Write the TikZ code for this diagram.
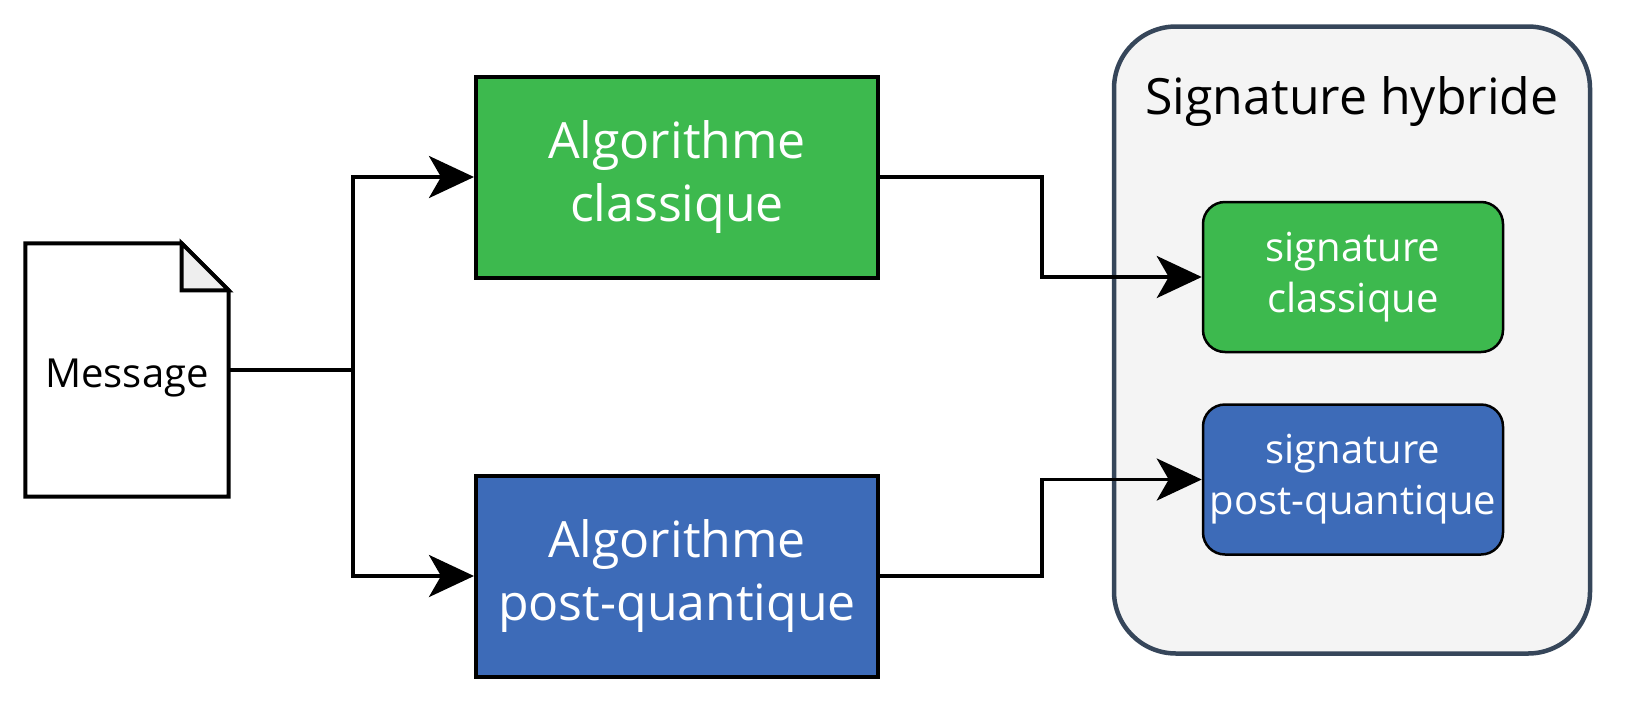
\documentclass[tikz,border=0pt]{standalone}
\usepackage{fontspec}
\setmainfont{Open Sans}
\usetikzlibrary{arrows.meta,positioning}

\definecolor{algogreen}{HTML}{3DB94E}
\definecolor{algoblue}{HTML}{3D6BB8}
\definecolor{hybridfill}{HTML}{F4F4F4}
\definecolor{hybridline}{HTML}{36465A}
\definecolor{foldfill}{HTML}{EEEEEE}

\begin{document}
\begin{tikzpicture}[x=1pt,y=-1pt,>={Stealth[length=45pt,width=42pt,inset=12pt]},
  link/.style={->,line width=3.8pt},
  algobox/.style={rectangle,draw=black,line width=4pt,text=white,align=center,
    minimum width=402pt,minimum height=201pt,inner sep=0pt,
    font=\fontsize{50}{63}\selectfont},
  sigbox/.style={rectangle,rounded corners=22pt,draw=black,line width=2.5pt,text=white,align=center,
    minimum width=300pt,minimum height=150pt,inner sep=0pt,
    font=\fontsize{40}{51}\selectfont}]
  \useasboundingbox (0,0) rectangle (1630,710);

  % hybrid container
  \node[rectangle,rounded corners=62pt,draw=hybridline,fill=hybridfill,line width=4.5pt,
    minimum width=476pt,minimum height=627pt] (hybrid) at (1352,340) {};
  \node[font=\fontsize{50}{62}\selectfont,anchor=base] (title) at (1352,114) {Signature hybride};

  % message document
  \node[minimum width=203pt,minimum height=253pt,inner sep=0pt] (msg) at (127,370) {};
  \draw[line width=4pt,line join=miter,fill=white]
    (msg.north west) -- ([xshift=-47pt]msg.north east) -- ([yshift=-47pt]msg.north east)
    -- (msg.south east) -- (msg.south west) -- cycle;
  \draw[line width=4pt,line join=miter,fill=foldfill]
    ([xshift=-47pt]msg.north east) -- ([xshift=-47pt,yshift=-47pt]msg.north east)
    -- ([yshift=-47pt]msg.north east) -- cycle;
  \node[font=\fontsize{40}{48}\selectfont] (msgtext) at ([yshift=-8pt]msg.center) {Message};

  % algorithms
  \node[algobox,fill=algogreen] (algc) at (677,177) {Algorithme\\classique};
  \node[algobox,fill=algoblue] (algpq) at (677,576) {Algorithme\\post-quantique};

  % signatures
  \node[sigbox,fill=algogreen] (sigc) at (1353,277) {signature\\classique};
  \node[sigbox,fill=algoblue,below=50pt of sigc] (sigpq) {signature\\post-quantique};

  % connectors
  \coordinate (split) at (353,370);
  \draw[line width=3.8pt] (msg.east) -- (split);
  \draw[link] (split) |- (algc.west);
  \draw[link] (split) |- (algpq.west);
  \draw[link] (algc.east) -- ++(162,0) |- (sigc.west);
  \draw[link] (algpq.east) -- ++(162,0) |- (sigpq.west);
\end{tikzpicture}
\end{document}
